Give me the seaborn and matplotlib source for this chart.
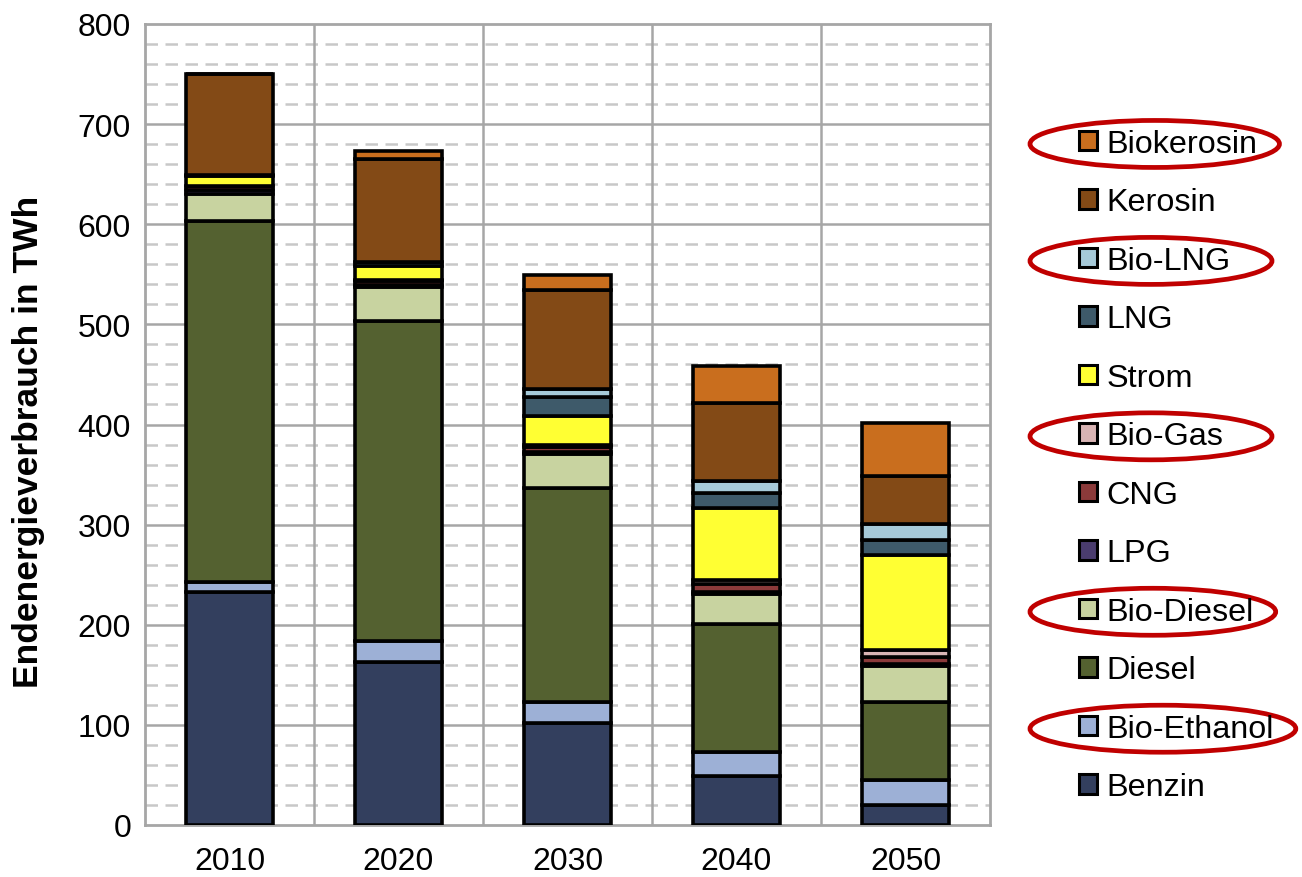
import matplotlib
matplotlib.use("Agg")
import matplotlib.pyplot as plt
from matplotlib.patches import Patch, Ellipse
from matplotlib.ticker import MultipleLocator
import pandas as pd
import seaborn as sns

# Endenergieverbrauch nach Energieträger (TWh)
jahre = ["2010", "2020", "2030", "2040", "2050"]
benzin = [233, 163, 102, 49, 20]
bio_ethanol = [10, 21, 21, 24, 25]
diesel = [360, 319, 214, 128, 78]
bio_diesel = [27, 34, 34, 30, 36]
lpg = [4, 2, 2, 2, 2]
cng = [4, 4, 5, 8, 7]
bio_gas = [0, 1, 2, 4, 7]
strom = [10, 14, 28, 72, 95]
lng = [1, 4, 19, 15, 15]
bio_lng = [0, 0, 8, 12, 16]
kerosin = [101, 103, 99, 77, 48]
biokerosin = [0, 8, 15, 37, 52]

traeger = ["Benzin", "Bio-Ethanol", "Diesel", "Bio-Diesel", "LPG", "CNG",
           "Bio-Gas", "Strom", "LNG", "Bio-LNG", "Kerosin", "Biokerosin"]
werte = [benzin, bio_ethanol, diesel, bio_diesel, lpg, cng,
         bio_gas, strom, lng, bio_lng, kerosin, biokerosin]
farben = ["#333F5E", "#9DB0D6", "#546130", "#C8D3A0", "#4A3C6E", "#8B3A3A",
          "#D8B4B4", "#FFFF33", "#3E5A6A", "#A6CAD9", "#834A16", "#C96E1E"]
markiert = ["Biokerosin", "Bio-LNG", "Bio-Gas", "Bio-Diesel", "Bio-Ethanol"]

rows = []
for name, vals in zip(traeger, werte):
    for i, v in enumerate(vals):
        rows.append({"pos": i, "Träger": name, "TWh": v})
df = pd.DataFrame(rows)

sns.set_theme(style="white")
plt.rcParams["font.family"] = ["Liberation Sans", "DejaVu Sans"]

fig = plt.figure(figsize=(13.02, 8.78), dpi=100)
ax = fig.add_axes([145 / 1302, 52 / 878, 845 / 1302, 801 / 878])

# later hue levels are stacked below earlier ones
hue_order = traeger[::-1]
palette = dict(zip(traeger, farben))
sns.histplot(data=df, x="pos", weights="TWh", hue="Träger", hue_order=hue_order,
             multiple="stack", discrete=True, shrink=0.52, palette=palette,
             alpha=1, edgecolor="black", linewidth=2.6, legend=False, ax=ax, zorder=3)

ax.set_xlim(-0.5, 4.5)
ax.set_ylim(0, 800)
ax.set_xticks(range(len(jahre)))
ax.set_xticklabels(jahre)
ax.yaxis.set_major_locator(MultipleLocator(100))
ax.yaxis.set_minor_locator(MultipleLocator(20))
ax.set_xlabel("")
ax.set_ylabel("Endenergieverbrauch in TWh", fontsize=25.5, fontweight="bold",
              color="black")
ax.yaxis.set_label_coords(-0.118, 0.479)
ax.tick_params(axis="both", labelsize=23, length=0, colors="black")
ax.tick_params(axis="x", pad=15)
ax.tick_params(axis="y", pad=10)

ax.grid(False)
ax.set_axisbelow(True)
for y in range(20, 800, 20):
    if y % 100:
        ax.axhline(y, color="#C8C8C8", lw=1.8, ls=(0, (5, 3)), zorder=0)
    else:
        ax.axhline(y, color="#A6A6A6", lw=1.8, zorder=0)
for x in [0.5, 1.5, 2.5, 3.5]:
    ax.axvline(x, color="#A6A6A6", lw=1.8, zorder=0)
for s in ax.spines.values():
    s.set_color("#A6A6A6")
    s.set_linewidth(2)

handles = [Patch(facecolor=palette[n], edgecolor="black", linewidth=2.2) for n in hue_order]
leg = fig.legend(handles, hue_order, loc="upper left",
                 bbox_to_anchor=(1066 / 1302, 1 - 117 / 878),
                 frameon=False, fontsize=23.3, handlelength=0.55, handleheight=0.55,
                 handletextpad=0.3, labelspacing=0.88, borderaxespad=0)
for t in leg.get_texts():
    t.set_color("black")

fig.canvas.draw()
renderer = fig.canvas.get_renderer()
W, H = fig.get_size_inches() * fig.dpi
for txt in leg.get_texts():
    if txt.get_text() in markiert:
        bb = txt.get_window_extent(renderer)
        left = 1030
        right = min(1299, max(1272, bb.x1 + 22))
        cy = (bb.y0 + bb.y1) / 2
        ell = Ellipse(((left + right) / 2 / W, cy / H), (right - left) / W, 47 / H,
                      transform=fig.transFigure, fill=False, edgecolor="#C00000", lw=3.4)
        fig.patches.append(ell)

fig.savefig("out.png", dpi=100)
